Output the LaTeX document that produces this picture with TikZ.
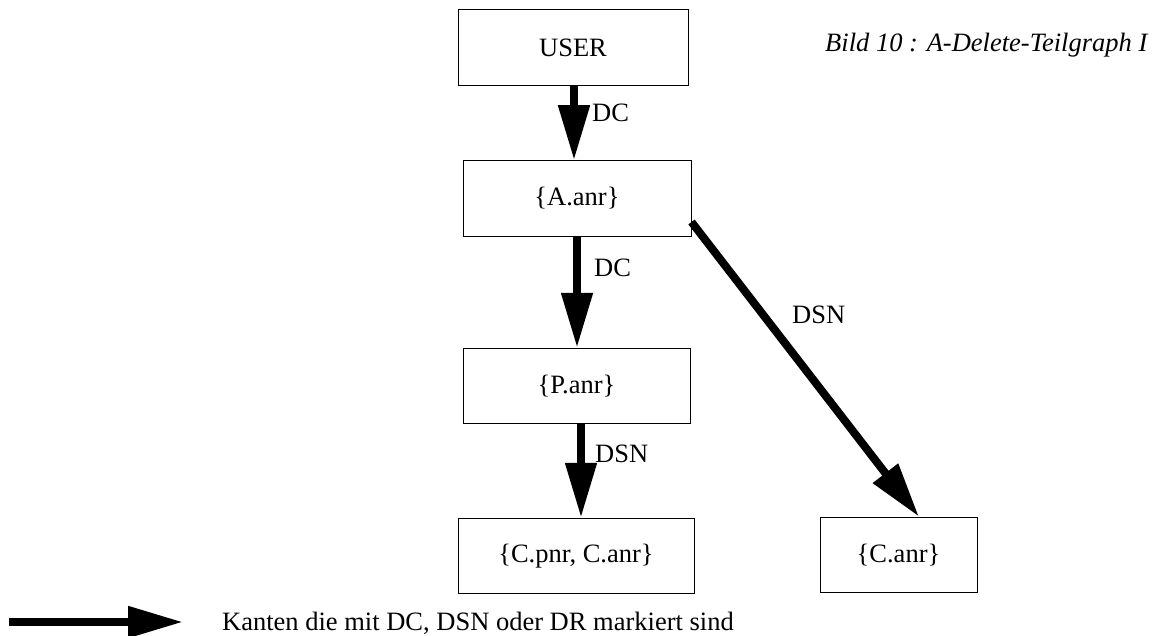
\documentclass[tikz,border=0pt]{standalone}
\usepackage{fontspec}
\setmainfont{Liberation Serif}
\usetikzlibrary{arrows.meta}
\begin{document}
\begin{tikzpicture}[x=1pt,y=-1pt,
  txt/.style={font=\fontsize{26.5}{31}\selectfont},
  box/.style={draw,line width=1pt,txt,inner sep=0pt,minimum height=75.5pt},
  lbl/.style={txt,inner sep=0pt,anchor=west},
  edge/.style={line width=8pt,-{Triangle[length=55pt,width=30pt]}}]
\useasboundingbox (0,0) rectangle (1156,636);

% nodes
\node[box,minimum width=230pt] (user) at (573,47.5) {USER};
\node[box,minimum width=228pt] (a)    at (577,198.5) {\{A.anr\}};
\node[box,minimum width=227pt] (p)    at (576.5,386) {\{P.anr\}};
\node[box,minimum width=236pt] (cpc)  at (576,556) {\{C.pnr, C.anr\}};
\node[box,minimum width=157pt] (ca)   at (898.5,555) {\{C.anr\}};

% connectors
\draw[edge] (574,0 |- user.south) -- (574,0 |- a.north);
\draw[edge] (577,0 |- a.south) -- (577,0 |- p.north);
\draw[edge] (581,0 |- p.south) -- (581,0 |- cpc.north);
\draw[edge] (a.east |- 0,222) -- (919,0 |- ca.north);

% edge labels
\node[lbl] (l1) at (592,113) {DC};
\node[lbl] (l2) at (594,268) {DC};
\node[lbl] (l3) at (595,454) {DSN};
\node[lbl] (l4) at (792,315) {DSN};

% title
\node[txt,inner sep=0pt,anchor=base west] (title) at (825,52) {\itshape Bild 10 : A-Delete-Teilgraph I};

% legend
\coordinate (ls) at (9,622);
\coordinate (le) at (183,622);
\draw[edge] (ls) -- (le);
\node[txt,inner sep=0pt,anchor=base west] (legend) at (222,630) {Kanten die mit DC, DSN oder DR markiert sind};
\end{tikzpicture}
\end{document}
